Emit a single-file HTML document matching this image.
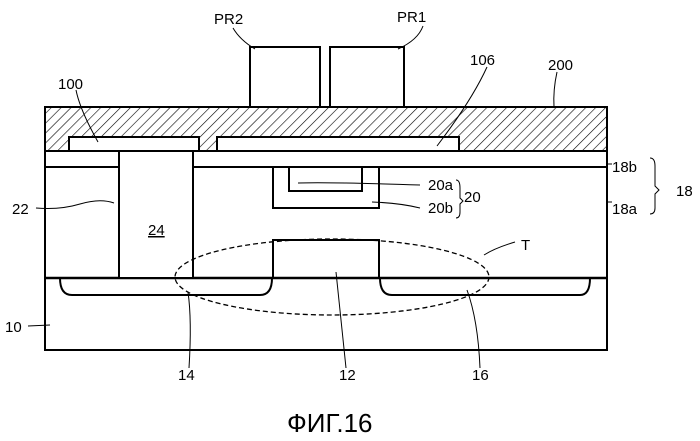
<!DOCTYPE html><html><head><style>body{margin:0;background:#fff}svg{display:block}text{font-family:"Liberation Sans",sans-serif;fill:#000}</style></head><body>
<svg width="700" height="441" viewBox="0 0 700 441" xmlns="http://www.w3.org/2000/svg">
<defs><pattern id="h" patternUnits="userSpaceOnUse" width="7" height="7" patternTransform="rotate(45)"><line x1="0" y1="0" x2="0" y2="7" stroke="#000" stroke-width="1.2"/></pattern></defs>
<g fill="none" stroke="#000" stroke-width="2">
<rect x="45" y="107" width="562" height="44" fill="url(#h)"/>
<rect x="69" y="137" width="130" height="14" fill="#fff"/>
<rect x="217" y="137" width="242" height="14" fill="#fff"/>
<rect x="250" y="47" width="70" height="60" fill="#fff"/>
<rect x="330" y="47" width="74" height="60" fill="#fff"/>
<rect x="45" y="151" width="562" height="199" fill="#fff"/>
<line x1="45" y1="167" x2="607" y2="167"/>
<line x1="45" y1="278" x2="607" y2="278" stroke-width="2.5"/>
<rect x="119" y="151" width="74" height="127" fill="#fff"/>
<polyline points="273,167 273,208 379,208 379,167"/>
<polyline points="289,167 289,191 362,191 362,167"/>
<polyline points="273,278 273,240 379,240 379,278"/>
<path d="M60,278 Q60,295 72,295 L260,295 Q272,295 272,278"/>
<path d="M380,278 Q380,295 392,295 L580,295 Q590,295 590,278"/>
<ellipse cx="332" cy="277" rx="157" ry="38" stroke-width="1.3" stroke-dasharray="5,3"/>
</g>
<g fill="none" stroke="#000" stroke-width="1">
<path d="M233,28 Q240,40 255,49"/><path d="M423,26 Q418,40 398,49"/>
<path d="M76,90 Q80,110 98,142"/><path d="M487,67 Q472,100 437,146"/><path d="M557,72 Q553,90 554,107"/>
<path d="M36,208 Q60,210 80,204 T114,203"/><path d="M28,326 L50,325"/>
<path d="M298,183 Q330,182 420,185"/><path d="M372,202 Q400,203 420,208"/>
<path d="M607,164 L612,164"/><path d="M607,202 L612,202"/>
<path d="M515,242 Q495,248 484,255"/>
<path d="M189,368 Q192,320 188,292"/><path d="M346,368 Q341,320 336,272"/><path d="M480,368 Q478,320 467,290"/>
</g>
<g font-size="15">
<text x="214" y="24">PR2</text><text x="397" y="22">PR1</text>
<text x="58" y="89">100</text><text x="470" y="65">106</text><text x="548" y="70">200</text>
<text x="12" y="214">22</text><text x="5" y="332">10</text>
<text x="612" y="172">18b</text><text x="612" y="214">18a</text><text x="676" y="196">18</text>
<text x="428" y="190">20a</text><text x="428" y="213">20b</text><text x="464" y="202">20</text>
<text x="521" y="250">T</text>
<text x="148" y="235" text-decoration="underline">24</text>
<text x="178" y="380">14</text><text x="339" y="380">12</text><text x="472" y="380">16</text>
<text x="287" y="432" font-size="26">ФИГ.16</text>
</g>
<g fill="none" stroke="#000" stroke-width="1"><path d="M650,158 Q655,158 655,166 L655,186 L659,190 L655,194 L655,208 Q655,214 650,214"/><path d="M456,180 Q460,180 460,188 L460,198 L463,201 L460,204 L460,212 Q460,218 456,218"/></g>
</svg></body></html>
